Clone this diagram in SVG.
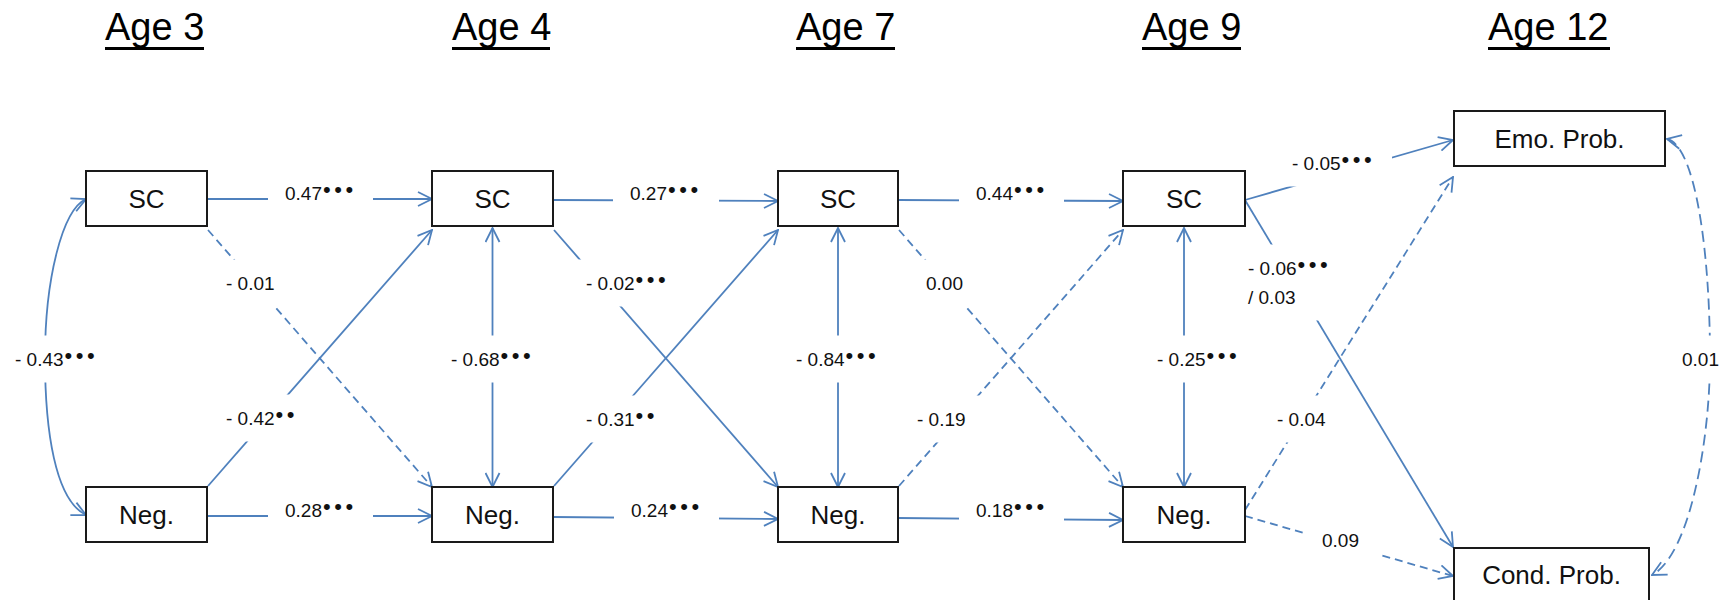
<svg xmlns="http://www.w3.org/2000/svg" width="1735" height="600" viewBox="0 0 1735 600">
  <defs>
    <style>
      .title { font-family: "Liberation Sans", Arial, sans-serif; font-size: 38px; fill: #000; }
      .uline { stroke: #000; stroke-width: 3; }
      .box { fill: #fff; stroke: #1a1a1a; stroke-width: 2; }
      .name { font-family: "Liberation Sans", Arial, sans-serif; font-size: 26px; fill: #111; text-anchor: middle; }
      .path { fill: none; stroke: #4F81BD; stroke-width: 1.8; }
      .dash { stroke-dasharray: 8 5; }
      .ldash { stroke-dasharray: 11 6; }
      .arrow { marker-end: url(#arr); }
      .both { marker-start: url(#arr); marker-end: url(#arr); }
      .bg { fill: #fff; }
      .lab { font-family: "Liberation Sans", Arial, sans-serif; font-size: 19px; fill: #111; }
      .s { font-size: 22px; letter-spacing: 3.5px; }
    </style>
    <marker id="arr" viewBox="0 0 16 16" refX="15" refY="8" markerWidth="16" markerHeight="16" markerUnits="userSpaceOnUse" orient="auto-start-reverse">
      <path d="M1,1 L15,8 L1,15" fill="none" stroke="#4F81BD" stroke-width="1.8"/>
    </marker>
  </defs>

  <rect width="1735" height="600" fill="#fff"/>

  <!-- wave headings -->
  <g id="headings">
    <text class="title" x="105" y="40">Age 3</text>
    <line class="uline" x1="105" y1="48.5" x2="204" y2="48.5"/>
    <text class="title" x="452" y="40">Age 4</text>
    <line class="uline" x1="452" y1="48.5" x2="550" y2="48.5"/>
    <text class="title" x="796" y="40">Age 7</text>
    <line class="uline" x1="796" y1="48.5" x2="895" y2="48.5"/>
    <text class="title" x="1142" y="40">Age 9</text>
    <line class="uline" x1="1142" y1="48.5" x2="1241" y2="48.5"/>
    <text class="title" x="1488" y="40">Age 12</text>
    <line class="uline" x1="1488" y1="48.5" x2="1610" y2="48.5"/>
  </g>

  <!-- paths between measures -->
  <g id="connectors">
    <!-- stability paths -->
    <path class="path arrow" d="M207,199 H432"/>
    <path class="path arrow" d="M553,200 L778,201"/>
    <path class="path arrow" d="M898,200 L1123,201"/>
    <path class="path arrow" d="M207,516 H432"/>
    <path class="path arrow" d="M553,517 L778,519"/>
    <path class="path arrow" d="M898,518 L1123,520"/>
    <!-- within-age covariances -->
    <path class="path both" d="M86,199 C62,210 45,280 45,358 C45,430 55,500 86,515"/>
    <path class="path both" d="M492.5,228 V487"/>
    <path class="path both" d="M838,228 V487"/>
    <path class="path both" d="M1184,228 V487"/>
    <!-- cross-lagged paths -->
    <path class="path dash arrow" d="M208,230 L432,487"/>
    <path class="path arrow" d="M208,486 L432,230"/>
    <path class="path arrow" d="M554,230 L778,487"/>
    <path class="path arrow" d="M554,486 L778,230"/>
    <path class="path dash arrow" d="M899,230 L1123,487"/>
    <path class="path dash arrow" d="M899,486 L1123,230"/>
    <!-- outcome paths -->
    <path class="path arrow" d="M1245,200 L1453,140"/>
    <path class="path arrow" d="M1245,200 L1453,547"/>
    <path class="path dash arrow" d="M1245,510 L1453,177"/>
    <path class="path dash arrow" d="M1245,516 L1453,576"/>
    <path class="path ldash both" d="M1667,139 C1695,145 1710,250 1710,358 C1710,440 1690,555 1652,575"/>
  </g>

  <!-- path coefficients -->
  <g id="labels">
    <rect class="bg" x="268" y="169.5" width="105" height="47"/>
    <text class="lab" x="285" y="200">0.47<tspan class="s" dx="1" dy="-3">•••</tspan></text>
    <rect class="bg" x="613" y="169.5" width="106" height="47"/>
    <text class="lab" x="630" y="200">0.27<tspan class="s" dx="1" dy="-3">•••</tspan></text>
    <rect class="bg" x="959" y="169.5" width="105" height="47"/>
    <text class="lab" x="976" y="200">0.44<tspan class="s" dx="1" dy="-3">•••</tspan></text>

    <rect class="bg" x="268" y="486.5" width="105" height="47"/>
    <text class="lab" x="285" y="517">0.28<tspan class="s" dx="1" dy="-3">•••</tspan></text>
    <rect class="bg" x="614" y="486.5" width="105" height="47"/>
    <text class="lab" x="631" y="517">0.24<tspan class="s" dx="1" dy="-3">•••</tspan></text>
    <rect class="bg" x="959" y="486.5" width="105" height="47"/>
    <text class="lab" x="976" y="517">0.18<tspan class="s" dx="1" dy="-3">•••</tspan></text>

    <rect class="bg" x="0" y="335.5" width="115" height="47"/>
    <text class="lab" x="15" y="366">- 0.43<tspan class="s" dx="1" dy="-3">•••</tspan></text>
    <rect class="bg" x="434" y="335.5" width="116" height="47"/>
    <text class="lab" x="451" y="366">- 0.68<tspan class="s" dx="1" dy="-3">•••</tspan></text>
    <rect class="bg" x="779" y="335.5" width="116" height="47"/>
    <text class="lab" x="796" y="366">- 0.84<tspan class="s" dx="1" dy="-3">•••</tspan></text>
    <rect class="bg" x="1140" y="335.5" width="116" height="47"/>
    <text class="lab" x="1157" y="366">- 0.25<tspan class="s" dx="1" dy="-3">•••</tspan></text>

    <rect class="bg" x="209" y="259.5" width="83" height="47"/>
    <text class="lab" x="226" y="290">- 0.01</text>
    <rect class="bg" x="209" y="394.5" width="105" height="47"/>
    <text class="lab" x="226" y="425">- 0.42<tspan class="s" dx="1" dy="-3">••</tspan></text>
    <rect class="bg" x="569" y="259.5" width="117" height="47"/>
    <text class="lab" x="586" y="290">- 0.02<tspan class="s" dx="1" dy="-3">•••</tspan></text>
    <rect class="bg" x="569" y="395.5" width="105" height="47"/>
    <text class="lab" x="586" y="426">- 0.31<tspan class="s" dx="1" dy="-3">••</tspan></text>
    <rect class="bg" x="909" y="259.5" width="72" height="47"/>
    <text class="lab" x="926" y="290">0.00</text>
    <rect class="bg" x="900" y="395.5" width="84" height="47"/>
    <text class="lab" x="917" y="426">- 0.19</text>

    <rect class="bg" x="1275" y="139.5" width="117" height="47"/>
    <text class="lab" x="1292" y="170">- 0.05<tspan class="s" dx="1" dy="-3">•••</tspan></text>
    <rect class="bg" x="1231" y="244.5" width="115" height="76"/>
    <text class="lab" x="1248" y="275">- 0.06<tspan class="s" dx="1" dy="-3">•••</tspan></text>
    <text class="lab" x="1248" y="304">/ 0.03</text>
    <rect class="bg" x="1260" y="395.5" width="85" height="47"/>
    <text class="lab" x="1277" y="426">- 0.04</text>
    <rect class="bg" x="1305" y="516.5" width="73" height="47"/>
    <text class="lab" x="1322" y="547">0.09</text>
    <rect class="bg" x="1665" y="335.5" width="70" height="47"/>
    <text class="lab" x="1682" y="366">0.01</text>
  </g>

  <!-- measures -->
  <g id="sc3"><rect class="box" x="86" y="171" width="121" height="55"/><text class="name" x="146.5" y="208">SC</text></g>
  <g id="neg3"><rect class="box" x="86" y="487" width="121" height="55"/><text class="name" x="146.5" y="524">Neg.</text></g>
  <g id="sc4"><rect class="box" x="432" y="171" width="121" height="55"/><text class="name" x="492.5" y="208">SC</text></g>
  <g id="neg4"><rect class="box" x="432" y="487" width="121" height="55"/><text class="name" x="492.5" y="524">Neg.</text></g>
  <g id="sc7"><rect class="box" x="778" y="171" width="120" height="55"/><text class="name" x="838" y="208">SC</text></g>
  <g id="neg7"><rect class="box" x="778" y="487" width="120" height="55"/><text class="name" x="838" y="524">Neg.</text></g>
  <g id="sc9"><rect class="box" x="1123" y="171" width="122" height="55"/><text class="name" x="1184" y="208">SC</text></g>
  <g id="neg9"><rect class="box" x="1123" y="487" width="122" height="55"/><text class="name" x="1184" y="524">Neg.</text></g>
  <g id="emo12"><rect class="box" x="1454" y="111" width="211" height="55"/><text class="name" x="1559.5" y="148">Emo. Prob.</text></g>
  <g id="cond12"><rect class="box" x="1454" y="548" width="195" height="55"/><text class="name" x="1551.5" y="584">Cond. Prob.</text></g>
</svg>
